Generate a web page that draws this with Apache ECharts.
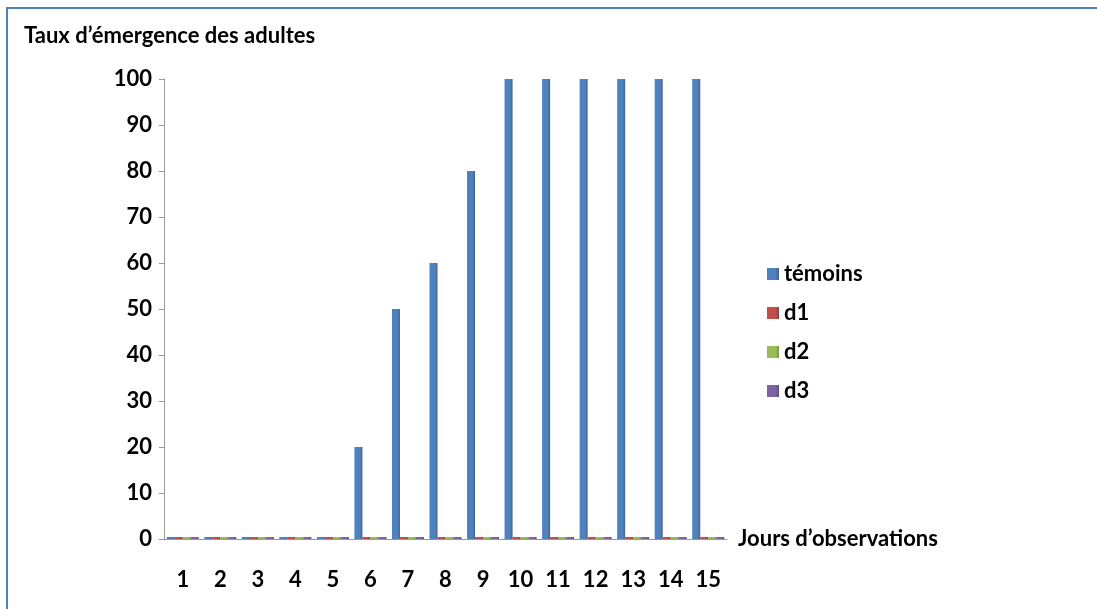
<!DOCTYPE html>
<html><head><meta charset="utf-8">
<script src="https://cdn.jsdelivr.net/npm/echarts@6/dist/echarts.min.js"></script>
<style>html,body{margin:0;padding:0;background:#fff}#c{width:1097px;height:609px}</style>
</head><body><div id="c"></div>
<script>
const categories = ['1','2','3','4','5','6','7','8','9','10','11','12','13','14','15'];
const temoins = [0,0,0,0,0,20,50,60,80,100,100,100,100,100,100];
const d1 = [0,0,0,0,0,0,0,0,0,0,0,0,0,0,0];
const d2 = [0,0,0,0,0,0,0,0,0,0,0,0,0,0,0];
const d3 = [0,0,0,0,0,0,0,0,0,0,0,0,0,0,0];
const seriesNames = ['témoins','d1','d2','d3'];
const colors = ['#4F81BD','#C0504D','#9BBB59','#8064A2'];
const dark = ['#3B6496','#9A3B39','#7A9A40','#624B82'];
const font = 'Lato';
const fs = 22;
function grad(i){
  return new echarts.graphic.LinearGradient(0,0,1,0,[
    {offset:0,color:colors[i]},{offset:0.7,color:colors[i]},{offset:1,color:dark[i]}]);
}
const chart = echarts.init(document.getElementById('c'));
const all = [temoins,d1,d2,d3];
chart.setOption({
  animation:false,
  textStyle:{fontFamily:font},
  graphic:[{type:'rect',shape:{x:7,y:8,width:1200,height:700},style:{fill:'none',stroke:'#4F81BD',lineWidth:2}}],
  title:{text:'Taux d’émergence des adultes',left:19,top:20,textStyle:{fontFamily:font,fontWeight:'bold',fontSize:fs,color:'#000'}},
  legend:{orient:'vertical',left:762,top:258,itemGap:17,itemWidth:12,itemHeight:12,icon:'rect',
    data:seriesNames,textStyle:{fontFamily:font,fontWeight:'bold',fontSize:fs,color:'#000'}},
  grid:{left:164,right:370,top:79,bottom:70},
  xAxis:{type:'category',data:categories,name:'Jours d’observations',nameLocation:'end',nameGap:11,
    nameTextStyle:{fontFamily:font,fontWeight:'bold',fontSize:fs,color:'#000',verticalAlign:'middle'},
    axisLine:{lineStyle:{color:'#999'}},axisTick:{length:9,lineStyle:{color:'#999'}},
    axisLabel:{margin:30,fontFamily:font,fontWeight:'bold',fontSize:fs,color:'#000'}},
  yAxis:{type:'value',min:0,max:100,interval:10,splitLine:{show:false},
    axisLine:{show:true,lineStyle:{color:'#999'}},axisTick:{show:true,length:5,lineStyle:{color:'#999'}},
    axisLabel:{margin:12,fontFamily:font,fontWeight:'bold',fontSize:fs,color:'#000'}},
  series: all.map((d,i)=>({name:seriesNames[i],type:'bar',data:d,barGap:'0%',barWidth:8,
    barMinHeight:2,itemStyle:{color:grad(i)}}))
});
</script></body></html>
